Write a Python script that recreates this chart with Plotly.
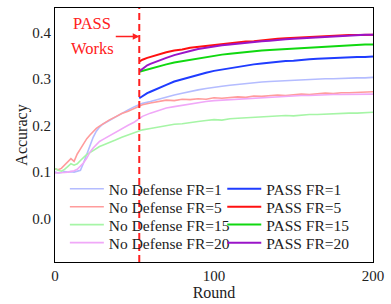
import plotly.graph_objects as go

# ---------------- data ----------------
rounds_nd = [0, 2, 4, 6, 8, 10, 12, 14, 16, 18, 20, 22, 24, 26, 28, 30, 34, 38, 42, 46, 50,
             55, 60, 65, 70, 75, 80, 85, 90, 95, 100, 105, 110, 115, 120, 125, 130, 135, 140,
             145, 150, 155, 160, 165, 170, 175, 180, 185, 190, 195, 200]

nd_fr1 = [0.100, 0.098, 0.099, 0.101, 0.100, 0.101, 0.100, 0.102, 0.104, 0.120, 0.140, 0.156, 0.175,
          0.188, 0.197, 0.203, 0.211, 0.218, 0.227, 0.234, 0.241,
          0.248, 0.252, 0.257, 0.262, 0.266, 0.270, 0.274, 0.277, 0.280, 0.283, 0.285, 0.287, 0.289,
          0.291, 0.293, 0.294, 0.295, 0.296, 0.297, 0.298, 0.299, 0.299, 0.300, 0.301, 0.301, 0.302,
          0.302, 0.303, 0.303, 0.304]
nd_fr5 = [0.107, 0.105, 0.108, 0.115, 0.123, 0.129, 0.123, 0.139, 0.150, 0.162, 0.172, 0.180, 0.188,
          0.194, 0.199, 0.204, 0.212, 0.219, 0.226, 0.231, 0.237,
          0.245, 0.249, 0.252, 0.255, 0.254, 0.257, 0.256, 0.258, 0.257, 0.260, 0.259, 0.261, 0.262,
          0.261, 0.264, 0.263, 0.265, 0.266, 0.265, 0.267, 0.268, 0.267, 0.269, 0.270, 0.269, 0.271,
          0.271, 0.272, 0.272, 0.273]
nd_fr15 = [0.108, 0.104, 0.102, 0.106, 0.112, 0.118, 0.115, 0.118, 0.125, 0.132, 0.138, 0.142, 0.147,
           0.151, 0.155, 0.158, 0.163, 0.169, 0.175, 0.180, 0.184,
           0.191, 0.194, 0.197, 0.200, 0.203, 0.204, 0.207, 0.209, 0.211, 0.213, 0.212, 0.215, 0.216,
           0.217, 0.217, 0.219, 0.220, 0.220, 0.222, 0.221, 0.223, 0.224, 0.224, 0.225, 0.226, 0.226,
           0.227, 0.227, 0.228, 0.229]
nd_fr20 = [0.098, 0.098, 0.099, 0.099, 0.100, 0.101, 0.103, 0.106, 0.112, 0.120, 0.130, 0.143, 0.152,
           0.160, 0.166, 0.170, 0.178, 0.186, 0.193, 0.201, 0.208,
           0.220, 0.227, 0.233, 0.238, 0.241, 0.244, 0.247, 0.250, 0.252, 0.254, 0.255, 0.257, 0.258,
           0.259, 0.260, 0.261, 0.262, 0.263, 0.264, 0.264, 0.265, 0.265, 0.266, 0.266, 0.267, 0.267,
           0.267, 0.268, 0.268, 0.268]

rounds_pass = [53, 55, 58, 60, 65, 70, 75, 80, 85, 90, 95, 100, 105, 110, 115, 120, 125, 130, 135,
               140, 145, 150, 155, 160, 165, 170, 175, 180, 185, 190, 195, 200]

pass_fr1 = [0.259, 0.264, 0.270, 0.273, 0.281, 0.288, 0.295, 0.300, 0.305, 0.310, 0.314, 0.318, 0.321,
            0.324, 0.327, 0.330, 0.332, 0.334, 0.336, 0.337, 0.339, 0.340, 0.342, 0.343, 0.344, 0.345,
            0.346, 0.347, 0.347, 0.348, 0.348, 0.349]
pass_fr5 = [0.338, 0.342, 0.346, 0.348, 0.354, 0.358, 0.362, 0.364, 0.368, 0.370, 0.372, 0.374, 0.375,
            0.378, 0.379, 0.381, 0.382, 0.384, 0.385, 0.387, 0.388, 0.389, 0.390, 0.391, 0.392, 0.393,
            0.393, 0.394, 0.395, 0.395, 0.396, 0.396]
pass_fr15 = [0.316, 0.318, 0.321, 0.323, 0.328, 0.332, 0.336, 0.339, 0.342, 0.345, 0.348, 0.350, 0.353,
             0.355, 0.357, 0.359, 0.361, 0.362, 0.363, 0.364, 0.365, 0.366, 0.367, 0.368, 0.370, 0.371,
             0.372, 0.373, 0.373, 0.374, 0.375, 0.375]
pass_fr20 = [0.317, 0.323, 0.330, 0.333, 0.340, 0.346, 0.352, 0.357, 0.361, 0.365, 0.368, 0.370, 0.373,
             0.375, 0.377, 0.378, 0.380, 0.382, 0.383, 0.385, 0.386, 0.387, 0.388, 0.389, 0.391, 0.392,
             0.393, 0.394, 0.394, 0.395, 0.396, 0.396]

pass_start = 53
x_ticks = [0, 100, 200]
y_ticks = [0.0, 0.1, 0.2, 0.3, 0.4]

# ---------------- figure ----------------
FONT = "Liberation Serif, Times New Roman, serif"
fig = go.Figure()

nd_series = [
    ("No Defense FR=1", nd_fr1, "#b4bcff"),
    ("No Defense FR=5", nd_fr5, "#ff9c9c"),
    ("No Defense FR=15", nd_fr15, "#a6f5a6"),
    ("No Defense FR=20", nd_fr20, "#f0a8f8"),
]
pass_series = [
    ("PASS FR=1", pass_fr1, "#1f3cff"),
    ("PASS FR=5", pass_fr5, "#ff1010"),
    ("PASS FR=15", pass_fr15, "#10d810"),
    ("PASS FR=20", pass_fr20, "#9a14c8"),
]

# legend rows (paper coords) – one legend box per entry for tight row spacing
row_y = [0.287, 0.216, 0.1455, 0.0745]
col_x = [0.031, 0.526]

legend_defs = {}
k = 1
for col, group, width in ((0, nd_series, 1.6), (1, pass_series, 2.0)):
    xs = rounds_nd if col == 0 else rounds_pass
    for r, (name, ys, color) in enumerate(group):
        lname = "legend" if k == 1 else f"legend{k}"
        legend_defs[lname] = dict(x=col_x[col], y=row_y[r], xanchor="left", yanchor="middle",
                                  bgcolor="rgba(0,0,0,0)", borderwidth=0, itemwidth=34,
                                  font=dict(family=FONT, size=15.5, color="#222"))
        fig.add_trace(go.Scatter(x=xs, y=ys, mode="lines", name=name,
                                 line=dict(color=color, width=width), legend=lname))
        k += 1

fig.add_shape(type="line", xref="x", yref="paper", x0=pass_start, x1=pass_start, y0=0, y1=1,
              line=dict(color="#ff2020", width=2, dash="7px,4px"))

fig.add_annotation(x=pass_start, y=0.392, xref="x", yref="y", ax=-25, ay=0,
                   text="", showarrow=True, arrowhead=2, arrowsize=1, arrowwidth=1.3,
                   arrowcolor="#ff2020")
fig.add_annotation(x=23.3, y=0.420, xref="x", yref="y", text="PASS", showarrow=False,
                   font=dict(family=FONT, size=16.5, color="#ff2020"))
fig.add_annotation(x=23.3, y=0.367, xref="x", yref="y", text="Works", showarrow=False,
                   font=dict(family=FONT, size=16.5, color="#ff2020"))

fig.update_layout(
    width=391, height=304,
    margin=dict(l=55, r=15, t=7, b=38),
    paper_bgcolor="white", plot_bgcolor="white",
    font=dict(family=FONT, size=15, color="#222"),
    showlegend=True,
    xaxis=dict(range=[0, 200], tickvals=x_ticks, ticktext=[str(v) for v in x_ticks],
               showgrid=False, zeroline=False, showline=True, mirror=True,
               linecolor="black", linewidth=1.2, ticks="", tickfont=dict(size=15),
               title=dict(text="Round", standoff=2, font=dict(size=16))),
    yaxis=dict(range=[-0.0936, 0.4534], tickvals=y_ticks, ticktext=[f"{v:.1f}" for v in y_ticks],
               showgrid=False, zeroline=False, showline=True, mirror=True,
               linecolor="black", linewidth=1.2, ticks="", tickfont=dict(size=15),
               title=dict(text="Accuracy", standoff=0, font=dict(size=16))),
    **legend_defs,
)

fig.write_html("out.html", config={"displayModeBar": False},
               post_script="document.body.style.margin='0px';")
